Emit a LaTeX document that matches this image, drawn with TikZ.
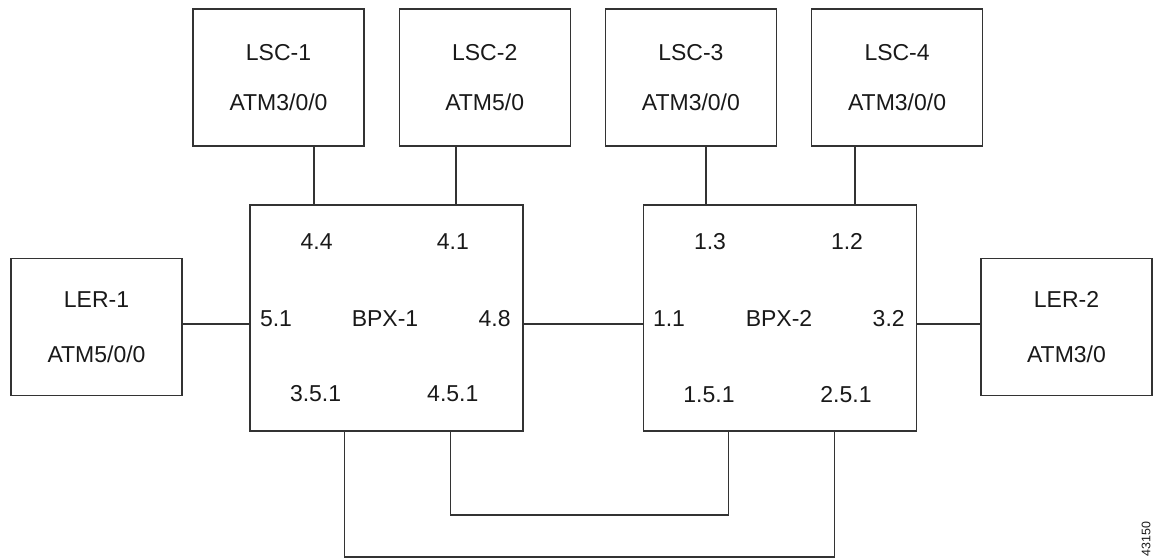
\documentclass[tikz,border=0pt]{standalone}
\usepackage{fontspec}
\setmainfont{Liberation Sans}
\usetikzlibrary{
    positioning
}

\begin{document}
\begin{tikzpicture}[x=0.5pt, y=-0.5pt,
    every node/.style={font=\fontsize{11.5}{13.8}\selectfont, text=black!90},
    device/.style={draw=black!80, line width=0.6pt, minimum width=85.5pt, minimum height=68.5pt, inner sep=0pt, align=center},
    switch/.style={draw=black!80, line width=0.6pt, minimum width=136.5pt, minimum height=113pt, inner sep=0pt},
    port/.style={inner sep=0pt, text height=8.2pt, text depth=0pt},
    link/.style={draw=black!80, line width=0.6pt}]
    \useasboundingbox (0,0) rectangle (1157,558);

    % label switch controllers
    \node[device] (lsc1) at (278.5,77.5) {LSC-1\\[11.2pt]ATM3/0/0};
    \node[device, right=17pt of lsc1] (lsc2) {LSC-2\\[11.2pt]ATM5/0};
    \node[device, right=17pt of lsc2] (lsc3) {LSC-3\\[11.2pt]ATM3/0/0};
    \node[device, right=17pt of lsc3] (lsc4) {LSC-4\\[11.2pt]ATM3/0/0};

    % switches and edge routers
    \node[switch] (bpx1) at (386.5,318) {};
    \node[switch, right=59.5pt of bpx1] (bpx2) {};
    \node[device] (ler1) at (96.5,327) {LER-1\\[13.7pt]ATM5/0/0};
    \node[device] (ler2) at (1066.5,327) {LER-2\\[13.7pt]ATM3/0};

    % ports on BPX-1
    \node[port] (p44) at (316.6,241) {4.4};
    \node[port] (p41) at (452.8,241) {4.1};
    \node[port] (p51) at (276,318) {5.1};
    \node[port] (n1) at (385,318) {BPX-1};
    \node[port] (p48) at (494.6,318) {4.8};
    \node[port] (p351) at (315.6,393) {3.5.1};
    \node[port] (p451) at (452.8,393) {4.5.1};

    % ports on BPX-2
    \node[port] (p13) at (710,241) {1.3};
    \node[port] (p12) at (847,241) {1.2};
    \node[port] (p11) at (669,318) {1.1};
    \node[port] (n2) at (779,318) {BPX-2};
    \node[port] (p32) at (888.7,318) {3.2};
    \node[port] (p151) at (709,394) {1.5.1};
    \node[port] (p251) at (846,394) {2.5.1};

    \node[rotate=90, inner sep=0pt, font=\fontsize{6.2}{7}\selectfont] (fig) at (1146,539) {43150};

    % where the links run
    \coordinate (mid) at (0,324);
    \coordinate (u1) at (314,0);
    \coordinate (u2) at (456,0);
    \coordinate (u3) at (706,0);
    \coordinate (u4) at (855,0);
    \coordinate (d1) at (344.5,0);
    \coordinate (d2) at (450.5,0);
    \coordinate (d3) at (728.5,0);
    \coordinate (d4) at (834.5,0);
    \coordinate (lo1) at (0,515);
    \coordinate (lo2) at (0,557);

    \draw[link] (lsc1.south -| u1) -- (bpx1.north -| u1);
    \draw[link] (lsc2.south -| u2) -- (bpx1.north -| u2);
    \draw[link] (lsc3.south -| u3) -- (bpx2.north -| u3);
    \draw[link] (lsc4.south -| u4) -- (bpx2.north -| u4);
    \draw[link] (ler1.east |- mid) -- (bpx1.west |- mid);
    \draw[link] (bpx1.east |- mid) -- (bpx2.west |- mid);
    \draw[link] (bpx2.east |- mid) -- (ler2.west |- mid);
    \draw[link] (bpx1.south -| d2) |- (lo1 -| d3) -- (bpx2.south -| d3);
    \draw[link] (bpx1.south -| d1) |- (lo2 -| d4) -- (bpx2.south -| d4);
\end{tikzpicture}
\end{document}
